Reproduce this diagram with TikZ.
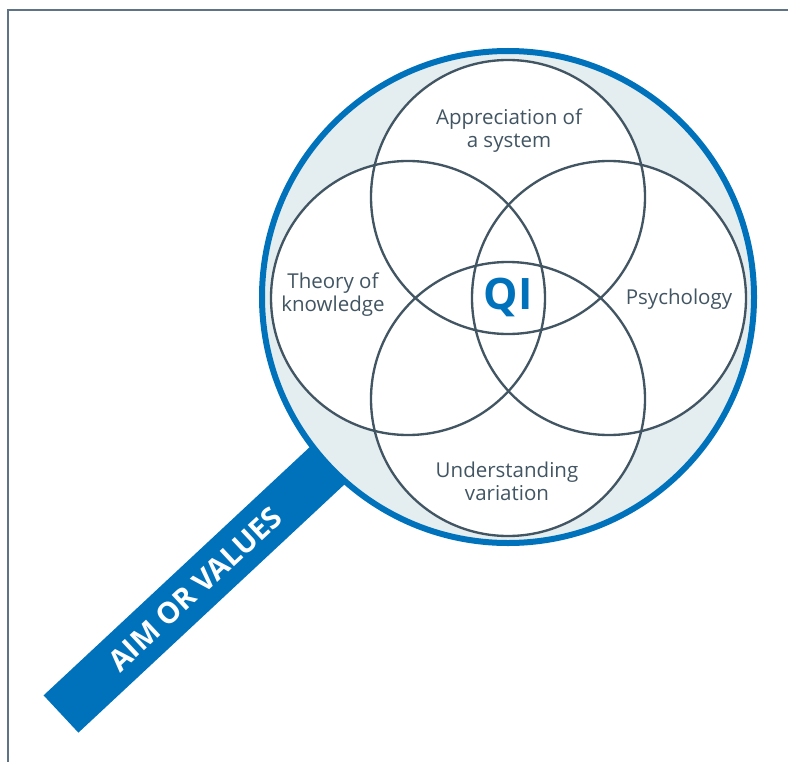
\documentclass[tikz,border=0pt]{standalone}
\usepackage{fontspec}
\setmainfont{Open Sans}
\usepackage{xcolor}
\usepackage{tikz}
\usetikzlibrary{positioning}

\definecolor{qiblue}{HTML}{0072BC}
\definecolor{slate}{HTML}{425563}
\definecolor{haze}{HTML}{E4EEF0}
\definecolor{framegrey}{HTML}{5E7385}

\begin{document}
\begin{tikzpicture}[x=0.03cm,y=-0.03cm,
  lens/.style={draw=qiblue,fill=haze,line width=0.18cm},
  petal/.style={draw=slate,line width=0.07cm},
  field/.style={font=\fontsize{17.5}{19.5}\selectfont,text=slate,align=center},
  handle/.style={draw=qiblue,line width=1.53cm}]
  \useasboundingbox (0,0) rectangle (788,762);
  \draw[framegrey,line width=0.05cm] (8,762) |- (788,10);

  \coordinate (grip) at (61,714);
  \coordinate (hub) at (508,297);
  \coordinate (sys) at (508,197);
  \coordinate (know) at (408,298);
  \coordinate (psy) at (609,298);
  \coordinate (var) at (508,399);

  % handle first, the lens covers its top end
  \draw[handle] (grip) -- node[pos=0.3,sloped,text=white,font=\bfseries\fontsize{25}{25}\selectfont] (aim) {AIM OR VALUES} (hub);
  \draw[lens] (hub) circle (246);

  % four overlapping circles: fill all, then stroke all
  \foreach \c in {sys,know,psy,var} \fill[white] (\c) circle (137);
  \foreach \c in {sys,know,psy,var} \draw[petal] (\c) circle (137);

  \node[field] (sysl) at (509,131) {Appreciation of\\a system};
  \node[field] (knowl) at (333,295) {Theory of\\knowledge};
  \node[field] (psyl) at (679,299) {Psychology};
  \node[field] (varl) at (507,481) {Understanding\\variation};
  \node[text=qiblue,font=\bfseries\fontsize{37}{37}\selectfont] (qi) at (hub) {QI};
\end{tikzpicture}
\end{document}
